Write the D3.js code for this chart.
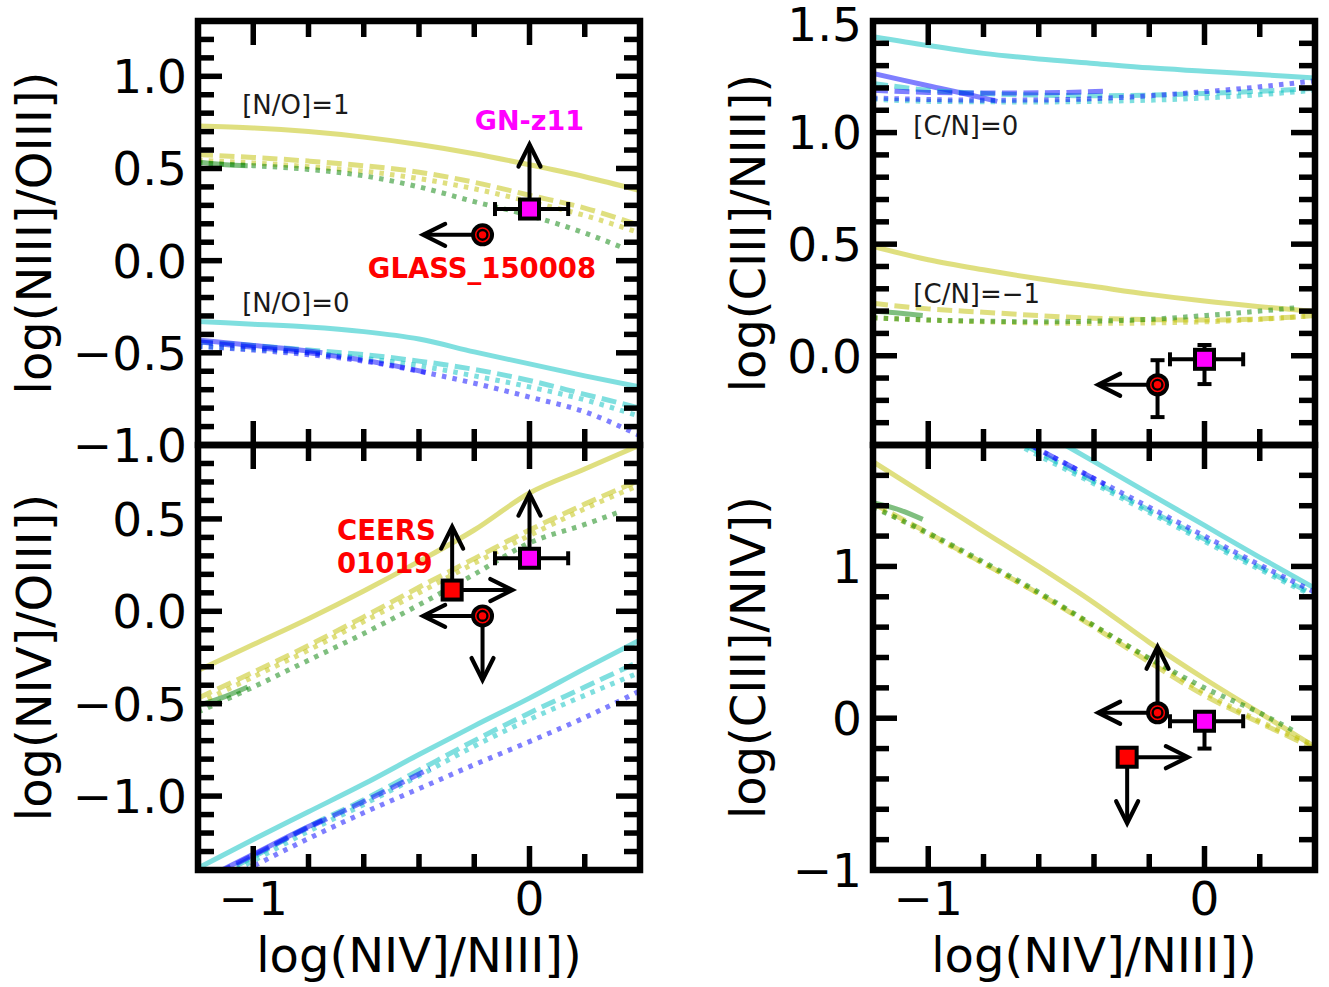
<!DOCTYPE html>
<html><head><meta charset="utf-8">
<script src="https://cdn.jsdelivr.net/npm/d3@7"></script>
<style>body{margin:0;background:#fff;} svg{display:block;} text{font-family:"DejaVu Sans",sans-serif;}</style>
</head><body><svg id="c" width="1329" height="987"></svg>
<script>
// ---------------- DATA ----------------
const gridX   = [-1.2,-1.0,-0.8,-0.6,-0.4,-0.2,0.0,0.2,0.4];
const gridXg  = [-1.2,-1.0,-0.8,-0.6,-0.4,-0.2,0.0,0.2,0.33];
const gSolidX = [-1.2,-1.1,-1.02];
const bSolidX = [-1.2,-1.0,-0.8,-0.75];
const bDashX  = [-1.2,-1.0,-0.8,-0.6,-0.36];

// top-left: log(NIII]/OIII])
const tlYs = [0.73,0.72,0.70,0.67,0.63,0.58,0.52,0.455,0.38];
const tlYd = [0.575,0.56,0.54,0.515,0.48,0.425,0.355,0.285,0.19];
const tlYo = [0.545,0.53,0.51,0.485,0.445,0.39,0.32,0.245,0.15];
const tlGo = [0.53,0.515,0.495,0.46,0.40,0.32,0.245,0.15,0.075];
const tlGs = [0.535,0.52,0.515];
const tlCs = [-0.33,-0.345,-0.36,-0.385,-0.425,-0.495,-0.56,-0.625,-0.685];
const tlCd = [-0.44,-0.46,-0.485,-0.51,-0.545,-0.59,-0.65,-0.725,-0.80];
const tlCo = [-0.465,-0.48,-0.50,-0.53,-0.57,-0.625,-0.685,-0.755,-0.845];
const tlBo = [-0.465,-0.485,-0.51,-0.545,-0.60,-0.665,-0.74,-0.82,-0.95];
const tlBs = [-0.43,-0.46,-0.49,-0.50];
const tlBd = [-0.44,-0.47,-0.50,-0.54,-0.61];

// top-right: log(CIII]/NIII])
const trCs = [1.43,1.39,1.355,1.33,1.31,1.29,1.275,1.26,1.245];
const trCd = [1.22,1.19,1.175,1.168,1.165,1.168,1.175,1.185,1.198];
const trCo = [1.15,1.14,1.138,1.137,1.14,1.145,1.155,1.17,1.19];
const trBo = [1.155,1.148,1.145,1.146,1.152,1.165,1.183,1.205,1.232];
const trBs = [1.265,1.21,1.155,1.14];
const trBd = [1.19,1.18,1.177,1.178,1.185];
const trYs = [0.49,0.43,0.385,0.345,0.31,0.275,0.245,0.22,0.198];
const trYd = [0.235,0.21,0.195,0.18,0.168,0.162,0.16,0.165,0.18];
const trYo = [0.17,0.16,0.152,0.147,0.145,0.147,0.152,0.163,0.18];
const trGo = [0.17,0.16,0.155,0.152,0.155,0.163,0.18,0.2,0.215];
const trGs = [0.2,0.19,0.18];

// bottom-left: log(NIV]/OIII])
const blYs = [-0.32,-0.18,-0.04,0.11,0.27,0.44,0.64,0.77,0.90];
const blYd = [-0.47,-0.33,-0.185,-0.03,0.13,0.285,0.44,0.58,0.71];
const blYo = [-0.50,-0.355,-0.21,-0.055,0.10,0.26,0.41,0.555,0.685];
const blGo = [-0.545,-0.41,-0.265,-0.12,0.035,0.20,0.37,0.47,0.54];
const blGs = [-0.51,-0.46,-0.41];
const blCs = [-1.39,-1.235,-1.085,-0.935,-0.775,-0.62,-0.47,-0.31,-0.155];
const blCd = [-1.48,-1.33,-1.165,-1.02,-0.86,-0.70,-0.55,-0.41,-0.27];
const blCo = [-1.50,-1.35,-1.19,-1.045,-0.89,-0.73,-0.585,-0.455,-0.33];
const blBo = [-1.54,-1.38,-1.23,-1.09,-0.96,-0.83,-0.705,-0.575,-0.43];
const blBs = [-1.465,-1.315,-1.165,-1.13];
const blBd = [-1.47,-1.32,-1.17,-1.03,-0.85];

// bottom-right: log(CIII]/NIV])
const brYs = [1.69,1.46,1.23,1.0,0.76,0.50,0.26,0.035,-0.19];
const brYd = [1.415,1.22,1.02,0.82,0.60,0.37,0.15,-0.03,-0.20];
const brYo = [1.40,1.21,1.02,0.82,0.61,0.39,0.17,-0.02,-0.18];
const brGo = [1.39,1.22,1.03,0.83,0.61,0.395,0.20,0.035,-0.09];
const brGs = [1.42,1.37,1.31];
const brCs = [2.53,2.32,2.11,1.90,1.69,1.48,1.27,1.06,0.855];
const brCd = [2.32,2.13,1.94,1.75,1.56,1.37,1.18,0.995,0.81];
const brCo = [2.30,2.11,1.92,1.73,1.545,1.355,1.165,0.98,0.80];
const brBo = [2.34,2.15,1.96,1.77,1.58,1.39,1.20,1.01,0.83];
const brBs = [2.36,2.17,1.98,1.93];
const brBd = [2.34,2.15,1.96,1.77,1.54];

// observed objects (panel order: tl, tr, bl, br)
const gnX = 0.0, glassX = -0.17, ceersX = -0.28;
const gnXerr = [0.125, 0.14];
const gnY    = [0.28, -0.016, 0.287, -0.02];
const gnYerr = [null, [0.111, 0.064], null, [0.18, 0.05]];   // [down, up]
const gnArrowUp = [0.35, null, 0.35, null];
const glassY    = [0.14, -0.13, -0.025, 0.036];
const glassYerr = [null, [0.145, 0.11], null, null];
const glassArrowLeft = [-0.215, -0.215, -0.215, -0.215];
const glassArrowVert = [null, null, -0.347, 0.435];
const ceersY = [null, null, 0.115, -0.257];
const ceersArrowRight = [null, null, 0.218, 0.22];
const ceersArrowVert  = [null, null, 0.343, -0.435];

// axes
const xDomain = [-1.2, 0.4];
const xMajor = [-1, 0];
const xMajorLabels = ["\u22121", "0"];
const xMinorStep = 0.2;
const yDomains = [[-1.0, 1.3], [-0.4, 1.5], [-1.4, 0.9], [-1.0, 1.8]];
const yMajors = [[-1.0,-0.5,0,0.5,1.0], [0,0.5,1.0,1.5], [-1.0,-0.5,0,0.5], [-1,0,1]];
const yMajorLabels = [["\u22121.0","\u22120.5","0.0","0.5","1.0"], ["0.0","0.5","1.0","1.5"],
                      ["\u22121.0","\u22120.5","0.0","0.5"], ["\u22121","0","1"]];
const yMinorSteps = [0.1, 0.1, 0.1, 0.2];
const yLabels = ["log(NIII]/OIII])", "log(CIII]/NIII])", "log(NIV]/OIII])", "log(CIII]/NIV])"];
const xLabel = "log(NIV]/NIII])";

// ---------------- DRAWING ----------------
const COL = {y:"#bfbf00", c:"#00bfbf", b:"#0000ff", g:"#008000"};
const DASH = {s:null, d:"15,6.5", o:"4.5,6.2"};
const LW = 5;

const svg = d3.select("#c");
const colX = [[198, 640], [873, 1315]];
const rowY = [[21, 445], [445, 870]];

function seriesFor(k){
  const sets = [
    [["y","s",gridX,tlYs],["y","d",gridX,tlYd],["y","o",gridX,tlYo],["g","o",gridXg,tlGo],["g","s",gSolidX,tlGs],
     ["c","s",gridX,tlCs],["c","d",gridX,tlCd],["c","o",gridX,tlCo],["b","s",bSolidX,tlBs],["b","d",bDashX,tlBd],["b","o",gridX,tlBo]],
    [["c","s",gridX,trCs],["b","s",bSolidX,trBs],["c","d",gridX,trCd],["b","d",bDashX,trBd],["c","o",gridX,trCo],["b","o",gridX,trBo],
     ["y","s",gridX,trYs],["y","d",gridX,trYd],["y","o",gridX,trYo],["g","o",gridXg,trGo],["g","s",gSolidX,trGs]],
    [["y","s",gridX,blYs],["y","d",gridX,blYd],["y","o",gridX,blYo],["g","o",gridXg,blGo],["g","s",gSolidX,blGs],
     ["c","s",gridX,blCs],["c","d",gridX,blCd],["c","o",gridX,blCo],["b","s",bSolidX,blBs],["b","d",bDashX,blBd],["b","o",gridX,blBo]],
    [["y","s",gridX,brYs],["y","d",gridX,brYd],["y","o",gridX,brYo],["g","o",gridXg,brGo],["g","s",gSolidX,brGs],
     ["c","s",gridX,brCs],["c","d",gridX,brCd],["c","o",gridX,brCo],["b","s",bSolidX,brBs],["b","d",bDashX,brBd],["b","o",gridX,brBo]]
  ];
  return sets[k];
}

const annots = [
  [{t:"[N/O]=1", x:-1.04, y:0.796, a:"start", c:"#1a1a1a", s:26, w:"normal"},
   {t:"[N/O]=0", x:-1.04, y:-0.278, a:"start", c:"#1a1a1a", s:26, w:"normal"},
   {t:"GN-z11", x:0.0, y:0.709, a:"middle", c:"#ff00ff", s:27, w:"bold"},
   {t:"GLASS_150008", x:-0.172, y:-0.094, a:"middle", c:"#ff0000", s:27.5, w:"bold"}],
  [{t:"[C/N]=0", x:-1.054, y:0.989, a:"start", c:"#1a1a1a", s:26, w:"normal"},
   {t:"[C/N]=\u22121", x:-1.054, y:0.236, a:"start", c:"#1a1a1a", s:26, w:"normal"}],
  [{t:"CEERS", x:-0.697, y:0.386, a:"start", c:"#ff0000", s:27.5, w:"bold"},
   {t:"01019", x:-0.697, y:0.206, a:"start", c:"#ff0000", s:27.5, w:"bold"}],
  []
];

function arrow(g, x0, y0, x1, y1){
  g.append("line").attr("x1",x0).attr("y1",y0).attr("x2",x1).attr("y2",y1)
   .attr("stroke","#000").attr("stroke-width",4);
  const dx = x1-x0, dy = y1-y0, L = Math.hypot(dx,dy), ux = dx/L, uy = dy/L;
  const hl = 22, hw = 11;
  const bx = x1 - ux*hl, by = y1 - uy*hl;
  g.append("path").attr("d", `M${bx - uy*hw},${by + ux*hw}L${x1},${y1}L${bx + uy*hw},${by - ux*hw}`)
   .attr("fill","none").attr("stroke","#000").attr("stroke-width",4.2)
   .attr("stroke-linecap","round").attr("stroke-linejoin","miter");
}
function errbar(g, x0, y0, x1, y1, vertical){
  g.append("line").attr("x1",x0).attr("y1",y0).attr("x2",x1).attr("y2",y1)
   .attr("stroke","#000").attr("stroke-width",4);
  const c = 7;
  [[x0,y0],[x1,y1]].forEach(([px,py])=>{
    if(vertical) g.append("line").attr("x1",px-c).attr("x2",px+c).attr("y1",py).attr("y2",py).attr("stroke","#000").attr("stroke-width",4);
    else g.append("line").attr("x1",px).attr("x2",px).attr("y1",py-c).attr("y2",py+c).attr("stroke","#000").attr("stroke-width",4);
  });
}

for(let k=0;k<4;k++){
  const ci = k%2, ri = Math.floor(k/2);
  const [x0,x1] = colX[ci], [y0,y1] = rowY[ri];
  const xs = d3.scaleLinear().domain(xDomain).range([x0,x1]);
  const ys = d3.scaleLinear().domain(yDomains[k]).range([y1,y0]);
  const g = svg.append("g");
  const clipId = "clip"+k;
  svg.append("clipPath").attr("id",clipId).append("rect")
     .attr("x",x0).attr("y",y0).attr("width",x1-x0).attr("height",y1-y0);

  // model lines
  const lg = g.append("g").attr("clip-path",`url(#${clipId})`);
  const line = d3.line().x(d=>xs(d[0])).y(d=>ys(d[1])).curve(d3.curveMonotoneX);
  seriesFor(k).forEach(([c,st,X,Y])=>{
    const pts = X.map((x,i)=>[x,Y[i]]);
    lg.append("path").attr("d",line(pts)).attr("fill","none")
      .attr("stroke",COL[c]).attr("stroke-opacity",0.5).attr("stroke-width",LW)
      .attr("stroke-dasharray",DASH[st]);
  });

  // observed objects
  const og = g.append("g");
  {
    const px = xs(gnX), py = ys(gnY[k]);
    errbar(og, xs(gnX-gnXerr[0]), py, xs(gnX+gnXerr[1]), py, false);
    if(gnYerr[k]) errbar(og, px, ys(gnY[k]-gnYerr[k][0]), px, ys(gnY[k]+gnYerr[k][1]), true);
    if(gnArrowUp[k]) arrow(og, px, py, px, ys(gnY[k]+gnArrowUp[k]));
  }
  if(ceersY[k]!==null){
    const px = xs(ceersX), py = ys(ceersY[k]);
    arrow(og, px, py, xs(ceersX+ceersArrowRight[k]), py);
    arrow(og, px, py, px, ys(ceersY[k]+ceersArrowVert[k]));
  }
  {
    const px = xs(glassX), py = ys(glassY[k]);
    if(glassYerr[k]) errbar(og, px, ys(glassY[k]-glassYerr[k][0]), px, ys(glassY[k]+glassYerr[k][1]), true);
    arrow(og, px, py, xs(glassX+glassArrowLeft[k]), py);
    if(glassArrowVert[k]) arrow(og, px, py, px, ys(glassY[k]+glassArrowVert[k]));
  }
  const sq = 19;
  og.append("rect").attr("x",xs(gnX)-sq/2).attr("y",ys(gnY[k])-sq/2).attr("width",sq).attr("height",sq)
    .attr("fill","#ff00ff").attr("stroke","#000").attr("stroke-width",4);
  if(ceersY[k]!==null)
    og.append("rect").attr("x",xs(ceersX)-sq/2).attr("y",ys(ceersY[k])-sq/2).attr("width",sq).attr("height",sq)
      .attr("fill","#ff0000").attr("stroke","#000").attr("stroke-width",4);
  {
    const px = xs(glassX), py = ys(glassY[k]);
    og.append("circle").attr("cx",px).attr("cy",py).attr("r",11.5).attr("fill","#000");
    og.append("circle").attr("cx",px).attr("cy",py).attr("r",6.8).attr("fill","none").attr("stroke","#ff0000").attr("stroke-width",1.5);
    og.append("circle").attr("cx",px).attr("cy",py).attr("r",3.7).attr("fill","#ff0000");
  }

  // annotations
  annots[k].forEach(a=>{
    g.append("text").attr("x",xs(a.x)).attr("y",ys(a.y)).attr("text-anchor",a.a)
     .attr("fill",a.c).attr("font-size",a.s).attr("font-weight",a.w).text(a.t);
  });

  // ticks (inward, all four sides)
  const tg = g.append("g").attr("stroke","#000").attr("stroke-width",5.5);
  const MAJ = 24, MIN = 16;
  const xMinor = d3.range(Math.round((xDomain[1]-xDomain[0])/xMinorStep)+1).map(i=>+(xDomain[0]+i*xMinorStep).toFixed(3));
  xMinor.forEach(v=>{
    const isMaj = xMajor.some(m=>Math.abs(m-v)<1e-6), L = isMaj?MAJ:MIN, X = xs(v);
    tg.append("line").attr("x1",X).attr("x2",X).attr("y1",y0).attr("y2",y0+L);
    tg.append("line").attr("x1",X).attr("x2",X).attr("y1",y1).attr("y2",y1-L);
  });
  const [yd0,yd1] = yDomains[k], ystep = yMinorSteps[k];
  const yMinor = d3.range(Math.round((yd1-yd0)/ystep)+1).map(i=>+(yd0+i*ystep).toFixed(3));
  yMinor.forEach(v=>{
    const isMaj = yMajors[k].some(m=>Math.abs(m-v)<1e-6), L = isMaj?MAJ:MIN, Y = ys(v);
    tg.append("line").attr("y1",Y).attr("y2",Y).attr("x1",x0).attr("x2",x0+L);
    tg.append("line").attr("y1",Y).attr("y2",Y).attr("x1",x1).attr("x2",x1-L);
  });

  // frame
  g.append("rect").attr("x",x0).attr("y",y0).attr("width",x1-x0).attr("height",y1-y0)
   .attr("fill","none").attr("stroke","#000").attr("stroke-width",6.5);

  // y tick labels
  yMajors[k].forEach((v,i)=>{
    const yy = Math.max(ys(v), 24);
    g.append("text").attr("x",x0-11).attr("y",yy).attr("dy","0.36em").attr("text-anchor","end")
     .attr("font-size",47).attr("fill","#000").text(yMajorLabels[k][i]);
  });
  if(ri===1){
    xMajor.forEach((v,i)=>{
      g.append("text").attr("x",xs(v)).attr("y",y1+45).attr("text-anchor","middle")
       .attr("font-size",47).attr("fill","#000").text(xMajorLabels[i]);
    });
    g.append("text").attr("x",(x0+x1)/2).attr("y",972).attr("text-anchor","middle")
     .attr("font-size",48).attr("fill","#000").text(xLabel);
  }
  const lx = ci===0 ? 51 : 765, ly = (y0+y1)/2;
  g.append("text").attr("transform",`translate(${lx},${ly}) rotate(-90)`).attr("text-anchor","middle")
   .attr("font-size",48).attr("fill","#000").text(yLabels[k]);
}
</script></body></html>
